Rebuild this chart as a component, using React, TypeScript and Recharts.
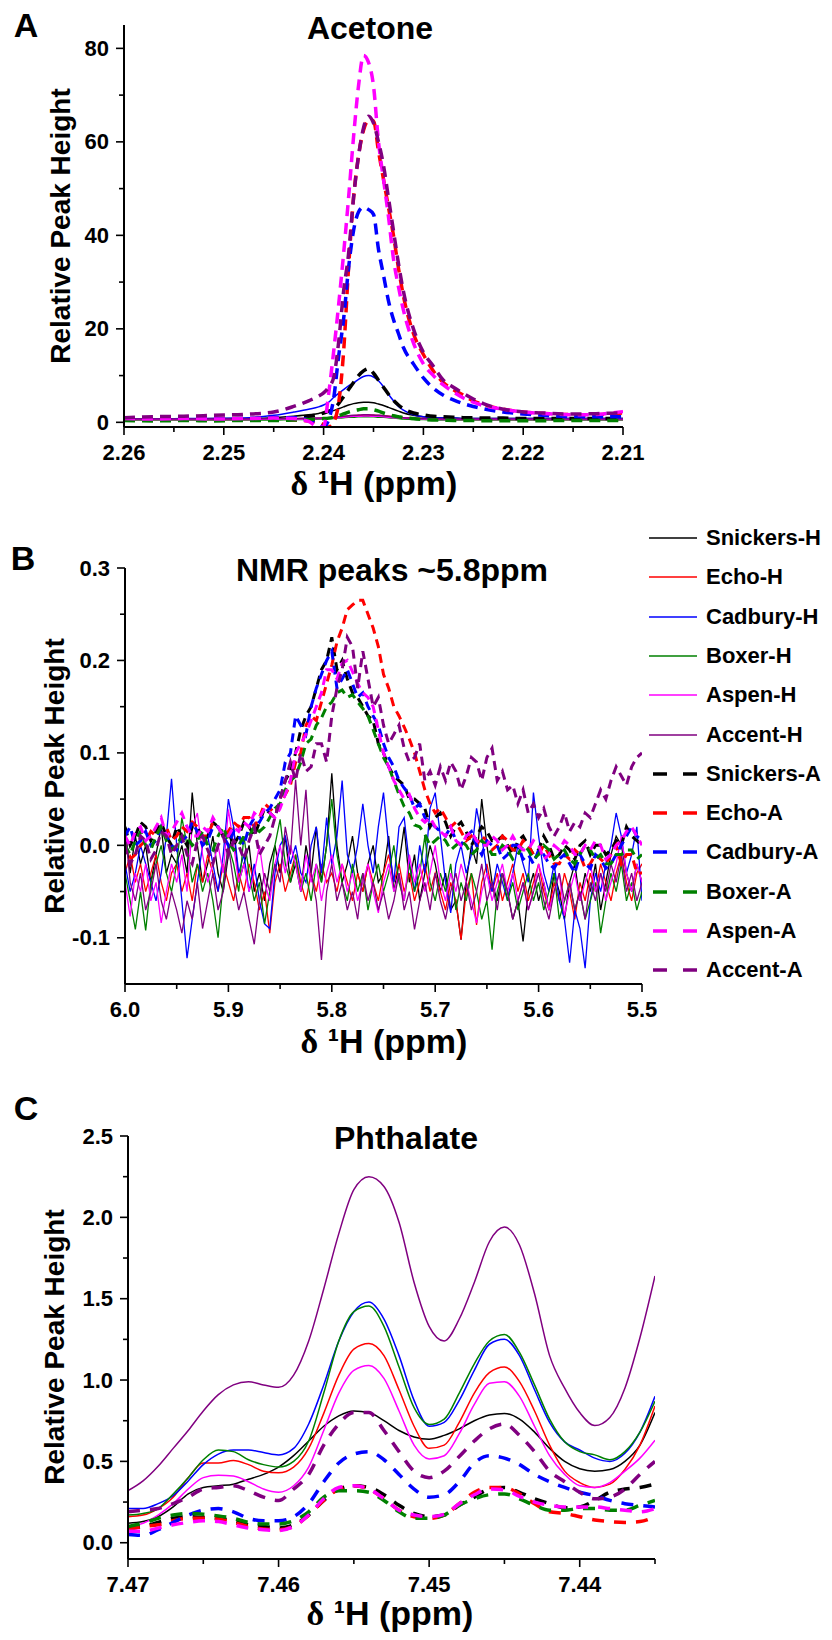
import React from 'react';
import { LineChart, Line, XAxis, YAxis } from 'recharts';

const FONT = "'Liberation Sans', Arial, Helvetica, sans-serif";
const SERIF = "'Liberation Serif', 'Times New Roman', serif";

const seriesNames = [
  'Snickers-H', 'Echo-H', 'Cadbury-H', 'Boxer-H', 'Aspen-H', 'Accent-H',
  'Snickers-A', 'Echo-A', 'Cadbury-A', 'Boxer-A', 'Aspen-A', 'Accent-A',
];
const seriesColors = [
  '#000000', '#ff0000', '#0000ff', '#008000', '#ff00ff', '#800080',
  '#000000', '#ff0000', '#0000ff', '#008000', '#ff00ff', '#800080',
];

// ---------- Panel A: acetone ----------
const ppmA = [2.26, 2.257, 2.254, 2.251, 2.248, 2.245, 2.243, 2.2415, 2.2405, 2.24, 2.2395, 2.239, 2.2385, 2.238, 2.2375, 2.237, 2.2365, 2.236, 2.2355, 2.235, 2.2345, 2.234, 2.2335, 2.233, 2.2325, 2.232, 2.231, 2.23, 2.229, 2.228, 2.227, 2.226, 2.225, 2.224, 2.222, 2.22, 2.218, 2.216, 2.214, 2.212, 2.21];
const snickersH_A = [0.7, 0.7, 0.7, 0.8, 0.8, 1.0, 1.3, 1.6, 1.9, 2.1, 2.3, 2.5, 2.9, 3.3, 3.7, 4.0, 4.2, 4.3, 4.3, 4.2, 3.9, 3.6, 3.2, 2.8, 2.4, 2.0, 1.5, 1.2, 1.0, 0.9, 0.9, 0.8, 0.8, 0.8, 0.8, 0.8, 0.8, 0.8, 0.8, 0.8, 0.8];
const echoH_A = [0.6, 0.6, 0.6, 0.6, 0.6, 0.7, 0.7, 0.8, 0.8, 0.9, 0.9, 1.0, 1.1, 1.2, 1.3, 1.4, 1.45, 1.5, 1.5, 1.5, 1.45, 1.4, 1.3, 1.2, 1.1, 1.0, 0.9, 0.8, 0.7, 0.7, 0.6, 0.6, 0.6, 0.6, 0.6, 0.6, 0.6, 0.6, 0.6, 0.6, 0.6];
const cadburyH_A = [0.7, 0.7, 0.8, 0.8, 0.9, 1.5, 2.2, 2.8, 3.3, 3.7, 4.3, 5.3, 6.2, 7.0, 7.8, 8.4, 9.2, 9.8, 10.0, 9.7, 8.9, 7.6, 6.0, 4.6, 3.4, 2.6, 1.6, 1.2, 1.0, 0.9, 0.9, 0.8, 0.8, 0.8, 0.8, 0.8, 0.8, 0.8, 0.8, 0.8, 0.8];
const boxerH_A = [0.5, 0.5, 0.5, 0.5, 0.5, 0.5, 0.6, 0.6, 0.7, 0.7, 0.8, 0.8, 0.9, 1.0, 1.1, 1.1, 1.2, 1.2, 1.2, 1.2, 1.1, 1.1, 1.0, 0.9, 0.8, 0.7, 0.6, 0.6, 0.5, 0.5, 0.5, 0.5, 0.5, 0.5, 0.5, 0.5, 0.5, 0.5, 0.5, 0.5, 0.5];
const aspenH_A = [0.6, 0.6, 0.6, 0.6, 0.6, 0.7, 0.7, 0.7, 0.8, 0.8, 0.9, 0.9, 1.0, 1.1, 1.2, 1.3, 1.3, 1.35, 1.35, 1.3, 1.3, 1.2, 1.1, 1.0, 0.9, 0.9, 0.8, 0.7, 0.7, 0.6, 0.6, 0.6, 0.6, 0.6, 0.6, 0.6, 0.6, 0.6, 0.6, 0.6, 0.6];
const accentH_A = [0.7, 0.7, 0.7, 0.7, 0.7, 0.8, 0.8, 0.9, 0.9, 1.0, 1.0, 1.1, 1.2, 1.3, 1.4, 1.5, 1.55, 1.6, 1.6, 1.55, 1.5, 1.4, 1.3, 1.2, 1.1, 1.0, 0.9, 0.8, 0.8, 0.7, 0.7, 0.7, 0.7, 0.7, 0.7, 0.7, 0.7, 0.7, 0.7, 0.7, 0.7];
const snickersA_A = [0.7, 0.7, 0.7, 0.8, 0.8, 0.9, 1.0, 1.3, 1.7, 2.0, 2.4, 2.8, 4.0, 5.5, 7.0, 8.5, 10.0, 11.0, 11.5, 10.5, 9.0, 7.5, 6.0, 4.7, 3.7, 2.9, 2.0, 1.6, 1.3, 1.2, 1.1, 1.0, 1.0, 0.9, 0.9, 0.8, 0.8, 0.8, 0.8, 0.8, 0.8];
const echoA_A = [0.5, 0.5, 0.5, 0.5, 0.6, 0.6, 0.5, 0.3, 0.0, -0.5, -1.0, 0.0, 4, 15, 33, 48, 57, 62.5, 64.5, 64.5, 58, 52, 46, 40, 33, 27, 19, 14.5, 11, 8.5, 7, 5.8, 4.6, 3.8, 2.8, 2.2, 1.9, 1.7, 1.6, 1.7, 2.0];
const cadburyA_A = [0.7, 0.6, 0.7, 0.7, 0.8, 0.9, 1.0, 0.5, -0.5, -1.0, 0.5, 5, 14, 22, 33, 41, 45, 46, 45.5, 44.5, 37, 31.5, 26, 22, 19, 16, 12.5, 9.5, 7.3, 5.8, 4.8, 4.0, 3.4, 2.9, 2.2, 1.8, 1.5, 1.3, 1.2, 1.2, 1.2];
const boxerA_A = [0.4, 0.3, 0.4, 0.3, 0.4, 0.4, 0.5, 0.6, 0.7, 0.8, 0.9, 1.1, 1.4, 1.8, 2.2, 2.5, 2.7, 2.9, 2.9, 2.7, 2.4, 2.0, 1.7, 1.4, 1.2, 1.0, 0.8, 0.6, 0.5, 0.45, 0.4, 0.4, 0.4, 0.35, 0.35, 0.35, 0.35, 0.4, 0.4, 0.4, 0.4];
const aspenA_A = [0.8, 0.7, 0.8, 0.7, 0.8, 0.9, 0.8, 0.2, -1.0, -1.0, 6, 15, 25, 36, 48, 61, 72, 78.5, 77, 72, 60, 52, 44, 35, 29, 24, 17, 12.5, 10, 8, 6.5, 5.2, 4.3, 3.6, 2.8, 2.2, 1.9, 1.7, 1.6, 1.8, 2.3];
const accentA_A = [1.0, 1.2, 1.3, 1.5, 1.7, 2.2, 3.4, 4.6, 5.6, 6.3, 7.5, 9.5, 17, 28, 36, 48, 57, 63, 65.5, 64, 60, 55, 48, 41, 34, 28, 20, 15, 12, 9, 7.5, 6.2, 5, 4, 2.8, 2.2, 2.0, 1.8, 1.8, 1.9, 2.0];
const xMajorA = [2.26, 2.25, 2.24, 2.23, 2.22, 2.21];
const xMinorA = [2.255, 2.245, 2.235, 2.225, 2.215];
const yMajorA = [0, 20, 40, 60, 80];
const yMinorA = [10, 30, 50, 70];

// ---------- Panel B: ~5.8 ppm (sampled every 0.005 ppm from 6.000 down to 5.500) ----------
const ppmB = Array.from({ length: 101 }, (_, i) => +(6 - 0.005 * i).toFixed(3));
const snickersH_B = [
  0.02, -0.03, 0.01, -0.02, 0.0, -0.04, -0.01, 0.02, -0.03, -0.01,
  -0.02, 0.0, -0.03, 0.057, 0.0, -0.04, -0.02, 0.01, -0.03, -0.05,
  -0.01, 0.02, -0.04, -0.02, 0.0, -0.05, -0.03, -0.06, -0.02, 0.0,
  -0.03, 0.01, -0.04, -0.02, -0.05, 0.0, -0.03, 0.02, -0.04, 0.0,
  0.078, 0.0, -0.04, -0.02, 0.01, -0.03, -0.05, -0.02, 0.0, -0.04,
  -0.03, 0.01, -0.05, -0.02, 0.02, -0.04, -0.01, -0.06, -0.03, 0.0,
  -0.02, -0.05, -0.03, -0.07, -0.06, -0.102, -0.04, 0.0, -0.02, 0.05,
  0.0, -0.04, -0.06, -0.03, -0.05, -0.08, -0.06, -0.104, -0.05, -0.03,
  -0.06, -0.04, -0.07, -0.03, -0.05, -0.08, -0.04, -0.02, -0.06, -0.03,
  -0.05, -0.02, -0.07, -0.04, -0.01, 0.01, 0.0, -0.03, -0.05, -0.02, -0.04,
];
const echoH_B = [
  -0.03, -0.01, -0.04, -0.02, -0.05, -0.03, -0.01, -0.04, -0.06, -0.03,
  -0.02, -0.05, -0.03, -0.06, -0.02, -0.04, -0.01, -0.03, -0.05, -0.02,
  -0.04, -0.06, -0.03, -0.05, -0.02, -0.04, -0.07, -0.05, -0.095, -0.04,
  -0.02, -0.05, -0.03, -0.01, -0.04, -0.06, -0.03, -0.05, -0.02, -0.04,
  -0.03, -0.05, -0.02, -0.04, -0.06, -0.03, -0.05, -0.02, -0.04, -0.06,
  -0.03, -0.01, -0.04, -0.02, -0.05, -0.03, -0.06, -0.04, -0.02, -0.05,
  -0.03, -0.05, -0.07, -0.04, -0.06, -0.102, -0.05, -0.03, -0.086, -0.04,
  -0.02, -0.05, -0.03, -0.06, -0.04, -0.02, -0.05, -0.03, -0.06, -0.04,
  -0.02, -0.05, -0.07, -0.04, -0.06, -0.03, -0.05, -0.08, -0.04, -0.06,
  -0.03, -0.05, -0.02, -0.04, -0.06, -0.03, -0.01, -0.04, -0.06, -0.03, -0.02,
];
const cadburyH_B = [
  -0.02, -0.05, -0.03, 0.0, -0.02, -0.04, -0.06, -0.03, 0.01, 0.072,
  0.0, -0.06, -0.122, -0.08, -0.04, 0.0, 0.01, -0.02, -0.05, -0.01,
  0.05, 0.02, -0.03, -0.01, -0.05, -0.02, -0.06, -0.085, -0.09, -0.03,
  0.0, 0.01, -0.02, 0.0, -0.03, -0.04, 0.0, 0.02, -0.03, 0.03,
  -0.02, 0.01, 0.07, -0.01, -0.03, 0.0, 0.045, 0.0, -0.03, 0.02,
  0.057, 0.0, -0.04, 0.02, 0.03, -0.02, -0.05, 0.0, -0.03, 0.04,
  0.057, 0.01, -0.04, -0.073, -0.02, 0.0, -0.03, -0.01, 0.04, 0.01,
  -0.03, -0.05, -0.02, -0.04, -0.06, -0.03, 0.0, -0.02, -0.04, 0.057,
  0.01, -0.03, -0.05, -0.02, -0.06, -0.08, -0.127, -0.07, -0.09, -0.133,
  -0.06, -0.03, -0.05, -0.02, 0.0, 0.035, 0.01, -0.03, -0.01, 0.02, -0.06,
];
const boxerH_B = [
  -0.03, -0.06, -0.091, -0.05, -0.092, -0.04, -0.02, 0.0, -0.03, -0.05,
  -0.02, 0.03, 0.0, -0.04, -0.02, -0.05, -0.03, -0.06, -0.1, -0.04,
  0.0, -0.02, -0.05, 0.01, -0.03, -0.06, -0.04, -0.085, -0.05, 0.0,
  0.028, -0.02, -0.04, -0.01, -0.05, -0.03, -0.06, -0.02, -0.04, 0.0,
  0.05, -0.01, -0.04, -0.06, -0.02, -0.05, -0.03, -0.07, -0.04, -0.02,
  -0.05, -0.03, 0.0, -0.04, -0.06, -0.02, -0.05, -0.03, 0.01, -0.04,
  -0.06, -0.03, -0.05, -0.02, -0.07, -0.04, -0.06, -0.03, -0.05, -0.08,
  -0.06, -0.113, -0.05, -0.03, -0.06, -0.04, -0.07, -0.05, -0.03, -0.06,
  -0.04, -0.07, -0.05, -0.03, -0.08, -0.06, -0.04, -0.07, -0.05, -0.08,
  -0.06, -0.04, -0.095, -0.06, -0.03, -0.05, -0.02, -0.06, -0.04, -0.07, -0.05,
];
const aspenH_B = [
  -0.04, -0.077, -0.03, -0.05, -0.02, -0.06, -0.04, -0.084, -0.05, -0.02,
  -0.04, -0.01, -0.05, 0.02, 0.035, -0.01, -0.04, -0.02, 0.0, -0.03,
  0.039, 0.0, -0.04, -0.02, -0.05, -0.03, 0.0, -0.04, -0.06, -0.02,
  0.0, -0.03, 0.0, -0.02, -0.05, -0.01, -0.04, -0.02, -0.06, -0.03,
  -0.01, -0.04, -0.02, -0.05, -0.03, -0.06, -0.04, -0.02, -0.05, -0.073,
  -0.04, -0.02, -0.05, -0.03, -0.06, -0.01, -0.04, -0.02, -0.05, -0.03,
  0.0, -0.04, -0.06, -0.03, -0.05, -0.02, -0.04, -0.06, -0.084, -0.05,
  -0.03, -0.06, -0.04, -0.02, -0.05, -0.03, -0.06, -0.04, -0.07, -0.05,
  -0.02, -0.04, -0.07, -0.05, -0.03, -0.076, -0.05, -0.03, -0.06, -0.04,
  -0.02, -0.05, -0.03, -0.06, -0.04, -0.02, 0.01, -0.03, -0.05, -0.02, -0.04,
];
const accentH_B = [
  0.02, -0.04, -0.06, -0.03, -0.07, -0.05, -0.02, -0.06, -0.08, -0.05,
  -0.07, -0.095, -0.06, -0.08, -0.04, -0.09, -0.06, -0.03, -0.07, -0.05,
  0.0, -0.04, -0.07, -0.05, -0.08, -0.107, -0.06, -0.03, -0.05, -0.02,
  -0.04, 0.02, -0.01, 0.071, 0.0, 0.06, -0.03, -0.06, -0.124, -0.05,
  -0.02, -0.06, -0.04, -0.07, -0.05, -0.08, -0.03, -0.06, -0.04, -0.07,
  -0.05, -0.08, -0.06, -0.03, -0.07, -0.05, -0.091, -0.06, -0.04, -0.07,
  -0.03, -0.06, -0.08, -0.05, -0.03, -0.06, -0.04, -0.07, -0.05, -0.02,
  -0.06, -0.04, -0.07, -0.03, -0.05, -0.08, -0.06, -0.04, -0.07, -0.05,
  -0.03, -0.06, -0.08, -0.05, -0.03, -0.06, -0.04, -0.07, -0.05, -0.08,
  -0.04, -0.06, -0.03, -0.05, -0.02, -0.04, -0.01, -0.05, -0.03, -0.06, -0.04,
];
const snickersA_B = [
  0.02, 0.0, 0.01, 0.025, 0.02, 0.005, 0.015, 0.025, 0.01, 0.0,
  0.02, 0.01, 0.0, 0.02, 0.02, 0.005, 0.01, 0.025, 0.02, 0.01,
  0.015, 0.0, 0.01, 0.025, 0.02, 0.01, 0.025, 0.04, 0.035, 0.03,
  0.05, 0.07, 0.08, 0.1, 0.125, 0.14, 0.15, 0.17, 0.19, 0.2,
  0.225, 0.19, 0.2, 0.18, 0.165, 0.16, 0.15, 0.14, 0.135, 0.11,
  0.1, 0.085, 0.075, 0.07, 0.065, 0.05, 0.05, 0.045, 0.04, 0.02,
  0.03, 0.035, 0.025, 0.01, 0.02, 0.025, 0.015, 0.0, 0.01, 0.02,
  0.015, 0.005, 0.005, 0.01, 0.0, -0.01, 0.005, 0.01, 0.0, -0.01,
  -0.005, 0.01, 0.0, -0.015, -0.01, 0.0, -0.005, -0.015, 0.0, 0.005,
  -0.01, 0.0, 0.0, -0.01, -0.005, 0.005, 0.0, 0.02, 0.01, 0.005, 0.0,
];
const echoA_B = [
  0.0, -0.015, -0.01, 0.0, 0.005, 0.015, 0.01, 0.02, 0.02, 0.005,
  0.01, 0.02, 0.015, 0.025, 0.02, 0.01, 0.01, 0.025, 0.02, 0.01,
  0.015, 0.025, 0.02, 0.03, 0.03, 0.02, 0.03, 0.045, 0.04, 0.035,
  0.045, 0.055, 0.065, 0.09, 0.1, 0.13, 0.14, 0.135, 0.155, 0.175,
  0.195, 0.22, 0.235, 0.255, 0.26, 0.265, 0.265, 0.25, 0.235, 0.215,
  0.185, 0.17, 0.15, 0.14, 0.128, 0.115, 0.1, 0.08, 0.06, 0.045,
  0.035, 0.04, 0.03, 0.02, 0.025, 0.015, 0.005, 0.01, 0.0, 0.01,
  0.005, -0.005, 0.0, 0.01, 0.005, -0.005, -0.005, 0.005, 0.0, -0.01,
  -0.01, 0.0, -0.01, -0.02, -0.02, -0.01, -0.015, -0.005, -0.01, -0.025,
  -0.02, -0.01, -0.015, -0.02, -0.01, 0.0, -0.02, -0.01, -0.01, -0.03, -0.03,
];
const cadburyA_B = [
  0.01, 0.02, 0.0, 0.005, 0.015, 0.0, 0.005, 0.02, 0.01, 0.0,
  -0.005, 0.005, 0.01, 0.025, 0.015, 0.0, 0.005, 0.02, 0.02, 0.01,
  0.0, 0.015, 0.01, 0.0, 0.02, 0.03, 0.025, 0.035, 0.04, 0.05,
  0.06, 0.09, 0.1, 0.14, 0.13, 0.12, 0.15, 0.17, 0.185, 0.2,
  0.21, 0.17, 0.18, 0.19, 0.175, 0.16, 0.165, 0.15, 0.14, 0.13,
  0.11, 0.095, 0.085, 0.07, 0.062, 0.055, 0.04, 0.045, 0.03, 0.025,
  0.02, 0.015, 0.01, 0.02, 0.005, 0.0, 0.01, 0.015, 0.0, -0.01,
  0.005, 0.0, 0.0, -0.015, -0.01, 0.0, 0.0, -0.015, -0.01, -0.02,
  -0.005, -0.01, -0.02, -0.025, -0.015, -0.01, -0.02, -0.03, -0.01, -0.02,
  -0.025, -0.01, -0.015, -0.025, -0.02, -0.01, 0.0, 0.01, 0.02, 0.01, 0.005,
];
const boxerA_B = [
  0.0, -0.01, 0.005, 0.015, 0.0, -0.005, 0.01, 0.02, 0.005, -0.005,
  0.0, 0.01, 0.01, 0.0, 0.005, 0.015, 0.0, -0.005, 0.01, 0.02,
  0.005, -0.005, 0.0, 0.01, 0.01, 0.02, 0.015, 0.02, 0.03, 0.04,
  0.045, 0.06, 0.07, 0.075, 0.09, 0.11, 0.115, 0.13, 0.138, 0.15,
  0.155, 0.165, 0.168, 0.16, 0.163, 0.155, 0.148, 0.14, 0.125, 0.11,
  0.095, 0.085, 0.07, 0.055, 0.042, 0.035, 0.022, 0.02, 0.012, 0.0,
  0.005, 0.01, 0.005, -0.005, 0.0, 0.005, 0.0, -0.01, -0.005, 0.005,
  0.0, -0.01, -0.01, 0.0, -0.005, -0.015, -0.01, 0.0, -0.005, -0.015,
  -0.01, 0.0, -0.005, -0.015, -0.01, -0.005, -0.015, -0.02, -0.01, 0.0,
  -0.005, -0.015, -0.01, -0.02, -0.02, -0.01, -0.01, -0.005, -0.005, -0.015, -0.01,
];
const aspenA_B = [
  0.01, 0.0, 0.015, 0.02, 0.005, 0.01, 0.02, 0.03, 0.01, 0.015,
  0.025, 0.035, 0.02, 0.01, 0.01, 0.02, 0.015, 0.03, 0.02, 0.01,
  0.01, 0.02, 0.015, 0.025, 0.02, 0.035, 0.03, 0.04, 0.035, 0.03,
  0.04, 0.055, 0.07, 0.1, 0.11, 0.12, 0.135, 0.15, 0.165, 0.19,
  0.19, 0.18, 0.197, 0.2, 0.188, 0.175, 0.165, 0.16, 0.15, 0.125,
  0.1, 0.085, 0.07, 0.06, 0.05, 0.055, 0.04, 0.03, 0.025, 0.03,
  0.02, 0.015, 0.01, 0.02, 0.005, 0.0, 0.01, 0.015, 0.005, 0.0,
  0.0, 0.01, 0.005, -0.005, 0.0, 0.01, 0.0, -0.005, -0.005, 0.005,
  0.0, -0.015, -0.01, 0.0, -0.005, 0.005, 0.0, -0.01, -0.01, 0.0,
  -0.005, 0.005, 0.0, -0.015, -0.01, 0.0, 0.005, 0.015, 0.02, 0.01, 0.0,
];
const accentA_B = [
  0.0, -0.02, -0.01, 0.01, 0.005, -0.015, -0.005, 0.015, 0.01, -0.01,
  0.0, 0.01, -0.01, -0.02, 0.005, 0.01, -0.005, -0.02, 0.0, 0.01,
  -0.01, 0.005, 0.0, -0.015, 0.005, 0.02, -0.01, 0.0, 0.01, 0.03,
  0.05, 0.07, 0.09, 0.07, 0.1, 0.08, 0.085, 0.11, 0.11, 0.09,
  0.14, 0.17, 0.19, 0.225, 0.215, 0.17, 0.21, 0.18, 0.15, 0.16,
  0.13, 0.11, 0.12, 0.13, 0.105, 0.09, 0.095, 0.11, 0.07, 0.08,
  0.065, 0.085, 0.07, 0.09, 0.08, 0.06, 0.075, 0.095, 0.09, 0.07,
  0.095, 0.105, 0.07, 0.08, 0.06, 0.065, 0.045, 0.06, 0.035, 0.045,
  0.03, 0.04, 0.02, 0.01, 0.02, 0.035, 0.015, 0.025, 0.02, 0.035,
  0.03, 0.045, 0.06, 0.05, 0.07, 0.085, 0.075, 0.065, 0.085, 0.095, 0.1,
];
const xMajorB = [6.0, 5.9, 5.8, 5.7, 5.6, 5.5];
const xMinorB = [5.95, 5.85, 5.75, 5.65, 5.55];
const yMajorB = [-0.1, 0.0, 0.1, 0.2, 0.3];
const yMinorB = [-0.05, 0.05, 0.15, 0.25];

// ---------- Panel C: phthalate ----------
const ppmC = [7.47, 7.469, 7.468, 7.467, 7.466, 7.465, 7.464, 7.463, 7.462, 7.461, 7.46, 7.459, 7.458, 7.457, 7.456, 7.455, 7.454, 7.453, 7.452, 7.451, 7.45, 7.449, 7.448, 7.447, 7.446, 7.445, 7.444, 7.443, 7.442, 7.441, 7.44, 7.439, 7.438, 7.437, 7.436, 7.435];
const snickersH_C = [0.12, 0.13, 0.16, 0.22, 0.3, 0.34, 0.35, 0.36, 0.39, 0.42, 0.465, 0.535, 0.625, 0.716, 0.78, 0.81, 0.8, 0.75, 0.69, 0.65, 0.636, 0.66, 0.7, 0.75, 0.785, 0.795, 0.76, 0.68, 0.58, 0.5, 0.455, 0.44, 0.45, 0.5, 0.6, 0.8];
const echoH_C = [0.16, 0.17, 0.21, 0.28, 0.4, 0.49, 0.49, 0.505, 0.48, 0.44, 0.43, 0.465, 0.58, 0.795, 1.03, 1.19, 1.225, 1.15, 0.94, 0.716, 0.58, 0.6, 0.74, 0.92, 1.045, 1.08, 0.99, 0.81, 0.6, 0.44, 0.37, 0.34, 0.36, 0.45, 0.6, 0.84];
const cadburyH_C = [0.21, 0.21, 0.24, 0.29, 0.38, 0.48, 0.545, 0.57, 0.57, 0.555, 0.54, 0.58, 0.73, 0.97, 1.24, 1.42, 1.48, 1.375, 1.15, 0.875, 0.716, 0.74, 0.875, 1.06, 1.22, 1.25, 1.15, 0.94, 0.74, 0.62, 0.57, 0.52, 0.5, 0.55, 0.68, 0.9];
const boxerH_C = [0.17, 0.18, 0.21, 0.3, 0.4, 0.51, 0.57, 0.56, 0.51, 0.48, 0.465, 0.5, 0.625, 0.92, 1.24, 1.42, 1.455, 1.33, 1.08, 0.83, 0.727, 0.76, 0.92, 1.1, 1.24, 1.28, 1.17, 0.97, 0.76, 0.62, 0.56, 0.54, 0.51, 0.56, 0.68, 0.87];
const aspenH_C = [0.1, 0.12, 0.17, 0.24, 0.33, 0.4, 0.415, 0.41, 0.375, 0.33, 0.31, 0.35, 0.465, 0.69, 0.92, 1.06, 1.09, 1.01, 0.81, 0.6, 0.515, 0.535, 0.67, 0.85, 0.98, 0.99, 0.9, 0.716, 0.535, 0.42, 0.35, 0.34, 0.37, 0.44, 0.52, 0.63];
const accentH_C = [0.32, 0.38, 0.47, 0.58, 0.69, 0.81, 0.91, 0.97, 0.99, 0.97, 0.955, 1.03, 1.24, 1.56, 1.9, 2.17, 2.25, 2.19, 1.97, 1.6, 1.33, 1.24, 1.375, 1.6, 1.85, 1.94, 1.83, 1.53, 1.15, 0.95, 0.8, 0.72, 0.77, 0.95, 1.26, 1.64];
const snickersA_C = [0.09, 0.1, 0.125, 0.15, 0.16, 0.155, 0.15, 0.135, 0.11, 0.1, 0.09, 0.11, 0.17, 0.26, 0.33, 0.35, 0.34, 0.295, 0.23, 0.18, 0.16, 0.17, 0.23, 0.28, 0.33, 0.34, 0.31, 0.27, 0.24, 0.215, 0.22, 0.26, 0.31, 0.33, 0.34, 0.36];
const echoA_C = [0.08, 0.1, 0.11, 0.135, 0.15, 0.15, 0.145, 0.125, 0.1, 0.085, 0.08, 0.1, 0.17, 0.26, 0.33, 0.35, 0.33, 0.27, 0.2, 0.16, 0.15, 0.17, 0.24, 0.31, 0.34, 0.34, 0.3, 0.24, 0.19, 0.18, 0.16, 0.14, 0.13, 0.125, 0.13, 0.16];
const cadburyA_C = [0.05, 0.045, 0.08, 0.125, 0.17, 0.2, 0.21, 0.19, 0.15, 0.135, 0.135, 0.16, 0.24, 0.375, 0.49, 0.545, 0.56, 0.51, 0.42, 0.33, 0.28, 0.295, 0.375, 0.49, 0.535, 0.52, 0.48, 0.42, 0.375, 0.34, 0.31, 0.29, 0.26, 0.24, 0.23, 0.22];
const boxerA_C = [0.1, 0.12, 0.15, 0.17, 0.18, 0.175, 0.165, 0.15, 0.125, 0.115, 0.115, 0.135, 0.19, 0.28, 0.32, 0.32, 0.31, 0.26, 0.19, 0.15, 0.15, 0.17, 0.23, 0.27, 0.295, 0.3, 0.27, 0.23, 0.2, 0.2, 0.21, 0.21, 0.2, 0.2, 0.23, 0.26];
const aspenA_C = [0.07, 0.07, 0.09, 0.11, 0.125, 0.135, 0.13, 0.11, 0.09, 0.08, 0.075, 0.1, 0.17, 0.27, 0.34, 0.35, 0.33, 0.27, 0.2, 0.17, 0.16, 0.175, 0.24, 0.295, 0.33, 0.325, 0.285, 0.25, 0.23, 0.22, 0.22, 0.22, 0.21, 0.2, 0.19, 0.21];
const accentA_C = [0.19, 0.2, 0.21, 0.24, 0.28, 0.33, 0.34, 0.35, 0.32, 0.28, 0.26, 0.33, 0.42, 0.6, 0.73, 0.8, 0.8, 0.69, 0.56, 0.44, 0.4, 0.44, 0.53, 0.625, 0.7, 0.73, 0.66, 0.56, 0.44, 0.375, 0.31, 0.27, 0.28, 0.33, 0.42, 0.5];
const xMajorC = [7.47, 7.46, 7.45, 7.44];
const xMinorC = [7.465, 7.455, 7.445, 7.435];
const yMajorC = [0.0, 0.5, 1.0, 1.5, 2.0, 2.5];
const yMinorC = [0.25, 0.75, 1.25, 1.75, 2.25];

type Series = { name: string; color: string; dashed: boolean; rows: { x: number; y: number }[] };

const toRows = (xs: number[], ys: number[]) => xs.map((x, i) => ({ x, y: ys[i] }));

const buildSeries = (xs: number[], groups: number[][]): Series[] =>
  groups.map((ys, i) => ({
    name: seriesNames[i],
    color: seriesColors[i],
    dashed: i >= 6,
    rows: toRows(xs, ys),
  }));

const seriesA = buildSeries(ppmA, [
  snickersH_A, echoH_A, cadburyH_A, boxerH_A, aspenH_A, accentH_A,
  snickersA_A, echoA_A, cadburyA_A, boxerA_A, aspenA_A, accentA_A,
]);
const seriesB = buildSeries(ppmB, [
  snickersH_B, echoH_B, cadburyH_B, boxerH_B, aspenH_B, accentH_B,
  snickersA_B, echoA_B, cadburyA_B, boxerA_B, aspenA_B, accentA_B,
]);
const seriesC = buildSeries(ppmC, [
  snickersH_C, echoH_C, cadburyH_C, boxerH_C, aspenH_C, accentH_C,
  snickersA_C, echoA_C, cadburyA_C, boxerA_C, aspenA_C, accentA_C,
]);

const W = 832;

type PanelProps = {
  top: number;
  height: number;
  plotLeft: number;
  plotRight: number;
  plotTop: number;
  plotBottom: number;
  xDomain: [number, number];
  yDomain: [number, number];
  xMajor: number[];
  xMinor: number[];
  yMajor: number[];
  yMinor: number[];
  xDigits: number;
  yDigits: number;
  series: Series[];
  curve: 'monotone' | 'linear';
  solidWidth: number;
  dashWidth: number;
  dash: string;
};

const isIn = (arr: number[], v: number) => arr.some((m) => Math.abs(m - v) < 1e-7);

function Panel(p: PanelProps) {
  const axisY = p.plotBottom - p.top;
  const axisX = p.plotLeft;
  const xAxisH = 60;

  const xTick = (props: any) => {
    const { x, payload } = props;
    const major = isIn(p.xMajor, payload.value);
    return (
      <g>
        <line x1={x} x2={x} y1={axisY} y2={axisY + (major ? 8 : 5)} stroke="#000" strokeWidth={1.6} />
        {major && (
          <text x={x} y={axisY + 25} textAnchor="middle" dominantBaseline="central"
            fontFamily={FONT} fontWeight="bold" fontSize={22} fill="#000">
            {Number(payload.value).toFixed(p.xDigits)}
          </text>
        )}
      </g>
    );
  };

  const yTick = (props: any) => {
    const { y, payload } = props;
    const major = isIn(p.yMajor, payload.value);
    return (
      <g>
        <line x1={axisX - (major ? 8 : 5)} x2={axisX} y1={y} y2={y} stroke="#000" strokeWidth={1.6} />
        {major && (
          <text x={axisX - 15} y={y} textAnchor="end" dominantBaseline="central"
            fontFamily={FONT} fontWeight="bold" fontSize={22} fill="#000">
            {Number(payload.value).toFixed(p.yDigits)}
          </text>
        )}
      </g>
    );
  };

  return (
    <div style={{ position: 'absolute', left: 0, top: p.top }}>
      <LineChart
        width={W}
        height={p.height}
        margin={{
          top: p.plotTop - p.top,
          right: W - p.plotRight,
          left: 0,
          bottom: p.height - axisY - xAxisH,
        }}
      >
        <XAxis
          dataKey="x"
          type="number"
          domain={p.xDomain}
          reversed
          allowDataOverflow
          ticks={[...p.xMajor, ...p.xMinor].sort((a, b) => a - b)}
          interval={0}
          tick={xTick}
          tickLine={false}
          axisLine={{ stroke: '#000', strokeWidth: 2 }}
          height={xAxisH}
        />
        <YAxis
          type="number"
          domain={p.yDomain}
          allowDataOverflow
          ticks={[...p.yMajor, ...p.yMinor].sort((a, b) => a - b)}
          interval={0}
          tick={yTick}
          tickLine={false}
          axisLine={{ stroke: '#000', strokeWidth: 2 }}
          width={p.plotLeft}
        />
        {p.series.map((s) => (
          <Line
            key={s.name}
            data={s.rows}
            dataKey="y"
            name={s.name}
            type={p.curve}
            stroke={s.color}
            strokeWidth={s.dashed ? p.dashWidth : p.solidWidth}
            strokeDasharray={s.dashed ? p.dash : undefined}
            dot={false}
            activeDot={false}
            isAnimationActive={false}
          />
        ))}
      </LineChart>
    </div>
  );
}

const Txt = ({ x, y, size, rotate, children }: { x: number; y: number; size: number; rotate?: boolean; children: React.ReactNode }) => (
  <div
    style={{
      position: 'absolute',
      left: x,
      top: y,
      transform: `translate(-50%, -50%)${rotate ? ' rotate(-90deg)' : ''}`,
      fontFamily: FONT,
      fontWeight: 'bold',
      fontSize: size,
      lineHeight: 1,
      whiteSpace: 'nowrap',
      color: '#000',
    }}
  >
    {children}
  </div>
);

const AxisTitle = () => (
  <>
    <span style={{ fontFamily: SERIF }}>δ</span> ¹H (ppm)
  </>
);

function Legend() {
  return (
    <>
      {seriesNames.map((name, i) => {
        const y = 538 + i * 39.3;
        const dashed = i >= 6;
        return (
          <div key={name} style={{ position: 'absolute', left: 649, top: y - 12, height: 24, display: 'flex', alignItems: 'center' }}>
            <svg width={50} height={10} style={{ display: 'block' }}>
              <line
                x1={dashed ? 4 : 0}
                x2={48}
                y1={5}
                y2={5}
                stroke={seriesColors[i]}
                strokeWidth={dashed ? 3.5 : 1.6}
                strokeDasharray={dashed ? '14 16' : undefined}
              />
            </svg>
            <span style={{ marginLeft: 7, fontFamily: FONT, fontWeight: 'bold', fontSize: 22, color: '#000', lineHeight: 1 }}>
              {name}
            </span>
          </div>
        );
      })}
    </>
  );
}

export default function App() {
  return (
    <div style={{ position: 'absolute', left: 0, top: 0, width: W, height: 1640, background: '#fff', overflow: 'hidden' }}>
      <Panel
        top={0}
        height={520}
        plotLeft={124}
        plotRight={623}
        plotTop={25}
        plotBottom={427}
        xDomain={[2.21, 2.26]}
        yDomain={[-1, 85]}
        xMajor={xMajorA}
        xMinor={xMinorA}
        yMajor={yMajorA}
        yMinor={yMinorA}
        xDigits={2}
        yDigits={0}
        series={seriesA}
        curve="monotone"
        solidWidth={1.5}
        dashWidth={3.5}
        dash="11 7"
      />
      <Panel
        top={520}
        height={540}
        plotLeft={125}
        plotRight={642}
        plotTop={568}
        plotBottom={984}
        xDomain={[5.5, 6.0]}
        yDomain={[-0.15, 0.3]}
        xMajor={xMajorB}
        xMinor={xMinorB}
        yMajor={yMajorB}
        yMinor={yMinorB}
        xDigits={1}
        yDigits={1}
        series={seriesB}
        curve="linear"
        solidWidth={1.3}
        dashWidth={3}
        dash="9 6"
      />
      <Panel
        top={1060}
        height={580}
        plotLeft={128}
        plotRight={655}
        plotTop={1136}
        plotBottom={1559}
        xDomain={[7.435, 7.47]}
        yDomain={[-0.1, 2.5]}
        xMajor={xMajorC}
        xMinor={xMinorC}
        yMajor={yMajorC}
        yMinor={yMinorC}
        xDigits={2}
        yDigits={1}
        series={seriesC}
        curve="monotone"
        solidWidth={1.5}
        dashWidth={3.5}
        dash="12 10"
      />

      <Txt x={26} y={25} size={34}>A</Txt>
      <Txt x={370} y={28} size={32}>Acetone</Txt>
      <Txt x={61} y={226} size={28} rotate>Relative Peak Height</Txt>
      <Txt x={374} y={483} size={34}><AxisTitle /></Txt>

      <Txt x={23} y={558} size={34}>B</Txt>
      <Txt x={392} y={570} size={32}>NMR peaks ~5.8ppm</Txt>
      <Txt x={55} y={776} size={28} rotate>Relative Peak Height</Txt>
      <Txt x={384} y={1041} size={34}><AxisTitle /></Txt>
      <Legend />

      <Txt x={26} y={1108} size={34}>C</Txt>
      <Txt x={406} y={1138} size={32}>Phthalate</Txt>
      <Txt x={55} y={1347} size={28} rotate>Relative Peak Height</Txt>
      <Txt x={390} y={1613} size={34}><AxisTitle /></Txt>
    </div>
  );
}
